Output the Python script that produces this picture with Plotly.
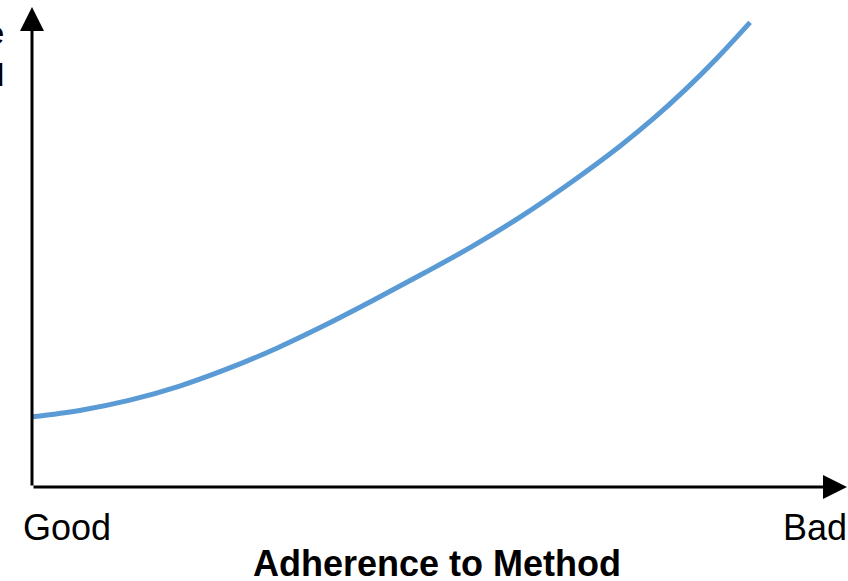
import plotly.graph_objects as go

# Data (x: adherence position 0-100, Good -> Bad; y: relative effort 0-100)
adherence = [0, 6, 12, 18, 24, 30, 36, 42, 48, 54, 60, 66, 72, 76, 80, 84, 88]
effort = [14.7, 16.1, 18.2, 21.1, 24.8, 29.1, 34.0, 39.3, 44.8, 50.5,
          56.8, 63.8, 71.4, 77.0, 83.2, 90.0, 97.4]
x_labels = ["Good", "Bad"]
x_title = "Adherence to Method"
y_title = "Cost of Change<br>Effort Required"

W, H = 848, 581
L, R, T, B = 32, 0, 10, 94
pw, ph = W - L - R, H - T - B

fig = go.Figure()
fig.add_trace(go.Scatter(
    x=adherence, y=effort, mode="lines",
    line=dict(color="#5B9BD5", width=5, shape="spline", smoothing=1.0),
    hoverinfo="skip", showlegend=False,
))

font_family = "Liberation Sans, Arial, sans-serif"


def px2paper(px, py):
    return (px - L) / pw, (H - B - py) / ph


annotations = []
# axis arrows
tx, ty = px2paper(32, 7)
annotations.append(dict(x=tx, y=ty, xref="paper", yref="paper", ax=0, ay=487 - 7,
                        showarrow=True, arrowhead=2, arrowsize=1.6,
                        arrowwidth=3, arrowcolor="black", text=""))
tx, ty = px2paper(850, 487)
annotations.append(dict(x=tx, y=ty, xref="paper", yref="paper", ax=-(850 - 32), ay=0,
                        showarrow=True, arrowhead=2, arrowsize=1.6,
                        arrowwidth=3, arrowcolor="black", text=""))

labels = [
    (67, 527, x_labels[0]),
    (815, 527, x_labels[1]),
    (437, 563, "<b>" + x_title + "</b>"),
]
for px, py, txt in labels:
    x, y = px2paper(px, py)
    annotations.append(dict(x=x, y=y, xref="paper", yref="paper", text=txt,
                            showarrow=False, xanchor="center", yanchor="middle",
                            font=dict(size=36, color="black", family=font_family)))

x, y = px2paper(6, 54)
annotations.append(dict(x=x, y=y, xref="paper", yref="paper", text=y_title,
                        showarrow=False, xanchor="right", yanchor="middle", align="right",
                        font=dict(size=32, color="black", family=font_family)))

fig.update_layout(
    width=W, height=H,
    margin=dict(l=L, r=R, t=T, b=B),
    paper_bgcolor="white", plot_bgcolor="white",
    xaxis=dict(range=[0, 100], visible=False, fixedrange=True),
    yaxis=dict(range=[0, 100], visible=False, fixedrange=True),
    annotations=annotations,
)

fig.write_html("out.html", config={"displayModeBar": False},
               post_script="document.body.style.margin='0';")
